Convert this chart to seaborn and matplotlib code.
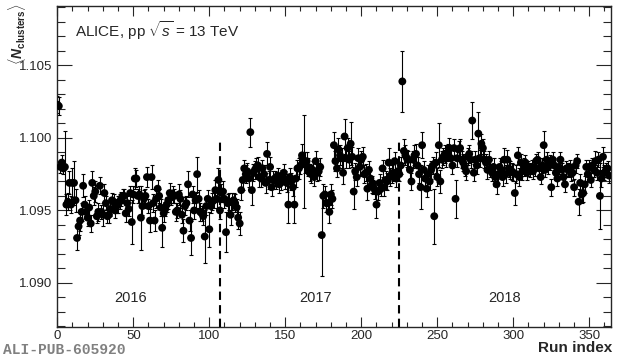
import numpy as np
import pandas as pd
import matplotlib
matplotlib.use("Agg")
import matplotlib.pyplot as plt
from matplotlib.ticker import MultipleLocator, FormatStrFormatter
import seaborn as sns

# <N_clusters> per run (run index = position in the list)
mean_clusters = [
    1.1023, 1.1022, 1.0980, 1.0983, 1.0979, 1.0980, 1.0954, 1.0956, 1.0969, 1.0954,
    1.0969, 1.0969, 1.0957, 1.0931, 1.0939, 1.0943, 1.0949, 1.0967, 1.0954, 1.0949,
    1.0945, 1.0952, 1.0941, 1.0969, 1.0960, 1.0963, 1.0946, 1.0949, 1.0967, 1.0949,
    1.0947, 1.0962, 1.0955, 1.0946, 1.0947, 1.0951, 1.0957, 1.0956, 1.0950, 1.0953,
    1.0954, 1.0956, 1.0958, 1.0960, 1.0960, 1.0948, 1.0955, 1.0951, 1.0962, 1.0942,
    1.0961, 1.0972, 1.0972, 1.0960, 1.0961, 1.0945, 1.0953, 1.0958, 1.0960, 1.0973,
    1.0953, 1.0943,
    1.0973, 1.0955, 1.0943, 1.0958, 1.0965, 1.0960, 1.0952, 1.0938, 1.0948, 1.0951,
    1.0954, 1.0957, 1.0962, 1.0959, 1.0961, 1.0960, 1.0949, 1.0950, 1.0961, 1.0958,
    1.0947, 1.0936, 1.0953, 1.0955, 1.0968, 1.0943, 1.0931, 1.0961, 1.0950, 1.0957,
    1.0975, 1.0958, 1.0949, 1.0948, 1.0946, 1.0932, 1.0953, 1.0958, 1.0937, 1.0953,
    1.0956, 1.0957, 1.0964, 1.0958, 1.0971, 1.0950, 1.0962, 1.0963, 1.0958, 1.0935,
    1.0955, 1.0956, 1.0947, 1.0956, 1.0957, 1.0955, 1.0952, 1.0945, 1.0941, 1.0964,
    1.0971, 1.0979, 1.0975, 1.0977, 1.0972,
    1.1004,
    1.0964, 1.0976, 1.0978, 1.0980, 1.0981, 1.0973, 1.0972, 1.0979, 1.0975, 1.0969,
    1.0989, 1.0971, 1.0980, 1.0966, 1.0971, 1.0972, 1.0970, 1.0974, 1.0968, 1.0969,
    1.0973, 1.0976, 1.0971, 1.0969, 1.0954, 1.0973, 1.0970, 1.0966, 1.0954, 1.0972,
    1.0979, 1.0979, 1.0981, 1.0988, 1.0984, 1.0983, 1.0984, 1.0980, 1.0976, 1.0975,
    1.0978, 1.0973, 1.0984, 1.0976, 1.0977, 1.0980, 1.0933, 1.0960, 1.0961, 1.0955,
    1.0955, 1.0949, 1.0961, 1.0958, 1.0995, 1.0984, 1.0979, 1.0992, 1.0988, 1.0986,
    1.0976, 1.1001,
    1.0986, 1.0993, 1.0985, 1.0996, 1.0987, 1.0963, 1.0977, 1.0973, 1.0986, 1.0980,
    1.0985, 1.0987, 1.0975, 1.0976, 1.0965, 1.0978, 1.0972, 1.0968, 1.0966, 1.0964,
    1.0954, 1.0963, 1.0969, 1.0965, 1.0979, 1.0966, 1.0971, 1.0970, 1.0983, 1.0973,
    1.0975, 1.0976, 1.0984, 1.0972, 1.0977, 1.0975, 1.0981, 1.1039,
    1.0991, 1.0988, 1.0986, 1.0985, 1.0978, 1.0970, 1.0985, 1.0988, 1.0989, 1.0981,
    1.0975, 1.0966, 1.0995, 1.0978, 1.0972, 1.0965, 1.0975, 1.0970, 1.0978, 1.0981,
    1.0946, 1.0983, 1.0973, 1.0995, 1.0970, 1.0985, 1.0987, 1.0989, 1.0986, 1.0990,
    1.0993, 1.0986, 1.0981, 1.0993, 1.0958, 1.0986, 1.0992, 1.0993, 1.0985, 1.0983,
    1.0980, 1.0977, 1.0987, 1.0989, 1.0985, 1.1012, 1.0976, 1.0985, 1.0981, 1.1003,
    1.0986, 1.0996, 1.0993, 1.0985, 1.0983, 1.0978, 1.0985, 1.0979, 1.0976, 1.0980,
    1.0973, 1.0968, 1.0975, 1.0980, 1.0978, 1.0973, 1.0985, 1.0975, 1.0985, 1.0979,
    1.0978, 1.0977, 1.0976, 1.0962, 1.0975, 1.0988, 1.0973, 1.0983, 1.0977, 1.0980,
    1.0983, 1.0976, 1.0979, 1.0978, 1.0980, 1.0977, 1.0979, 1.0984, 1.0985, 1.0979,
    1.0973, 1.0981, 1.0995, 1.0978, 1.0985, 1.0980, 1.0983, 1.0966, 1.0985, 1.0981,
    1.0976, 1.0972, 1.0980, 1.0985, 1.0978, 1.0973, 1.0968, 1.0979, 1.0978, 1.0980,
    1.0975, 1.0976, 1.0966, 1.0981, 1.0984, 1.0956, 1.0969, 1.0961, 1.0962, 1.0968,
    1.0980, 1.0975, 1.0980, 1.0971, 1.0981, 1.0978, 1.0984, 1.0976, 1.0985, 1.0960,
    1.0972, 1.0987, 1.0976, 1.0978, 1.0979, 1.0974,
]

# statistical errors, in units of 1e-4
stat_err_1e4 = [
    6, 6, 4, 5, 4, 25, 7, 6, 8, 6,
    10, 15, 8, 8, 6, 7, 6, 8, 6, 5,
    6, 5, 6, 8, 6, 7, 5, 6, 6, 5,
    8, 6, 5, 5, 6, 5, 5, 5, 5, 5,
    6, 5, 5, 5, 5, 6, 5, 5, 5, 15,
    6, 7, 6, 5, 6, 22, 6, 6, 5, 7,
    5, 8,
    8, 6, 7, 6, 6, 5, 6, 13, 6, 5,
    5, 6, 7, 5, 6, 5, 6, 5, 7, 6,
    6, 8, 6, 5, 9, 7, 12, 6, 6, 5,
    12, 6, 6, 5, 6, 18, 6, 6, 12, 5,
    6, 5, 7, 6, 8, 6, 6, 7, 6, 14,
    6, 6, 7, 6, 5, 6, 6, 8, 8, 7,
    7, 6, 6, 6, 6,
    10,
    10, 6, 6, 6, 6, 7, 6, 6, 6, 7,
    8, 6, 7, 6, 6, 5, 5, 5, 6, 5,
    5, 6, 6, 6, 13, 6, 6, 6, 13, 6,
    6, 7, 6, 8, 32, 7, 6, 6, 6, 6,
    6, 6, 7, 6, 6, 6, 28, 8, 6, 6,
    7, 8, 7, 6, 9, 7, 6, 8, 7, 7,
    8, 12,
    7, 7, 6, 15, 7, 12, 6, 6, 7, 6,
    6, 7, 6, 6, 8, 6, 6, 6, 5, 6,
    9, 6, 6, 5, 6, 6, 6, 6, 10, 6,
    6, 6, 6, 6, 6, 5, 6, 21,
    8, 7, 6, 6, 6, 6, 6, 7, 7, 6,
    6, 15, 9, 6, 6, 6, 6, 6, 6, 6,
    19, 7, 6, 15, 8, 6, 6, 6, 6, 6,
    7, 6, 6, 6, 13, 6, 6, 6, 6, 6,
    6, 6, 6, 6, 6, 13, 6, 6, 6, 15,
    6, 7, 6, 6, 6, 6, 6, 6, 6, 6,
    6, 7, 6, 6, 6, 6, 8, 6, 7, 6,
    6, 6, 6, 8, 6, 6, 6, 6, 6, 6,
    5, 5, 5, 5, 5, 5, 5, 5, 5, 5,
    5, 5, 10, 5, 5, 5, 5, 6, 5, 5,
    5, 5, 5, 5, 5, 5, 5, 5, 5, 5,
    5, 5, 6, 5, 5, 9, 6, 6, 6, 6,
    5, 5, 5, 5, 5, 5, 7, 5, 5, 23,
    6, 7, 5, 5, 5, 5,
]

period_labels = ["2016", "2017", "2018"]
period_label_runs = [48.5, 170, 294.5]
period_boundaries = [107.2, 224.8]

df = pd.DataFrame({
    "run": np.arange(len(mean_clusters)),
    "n": mean_clusters,
    "err": np.array(stat_err_1e4) * 1e-4,
})

sns.set_style("ticks")
plt.rcParams["font.family"] = ["Liberation Sans", "DejaVu Sans"]
plt.rcParams["mathtext.fontset"] = "custom"
plt.rcParams["mathtext.rm"] = "Liberation Sans"
plt.rcParams["mathtext.it"] = "Liberation Sans:italic"
plt.rcParams["mathtext.bf"] = "Liberation Sans:bold"
plt.rcParams["mathtext.bfit"] = "Liberation Sans:italic:bold"

ymin, ymax = 1.08696, 1.1091

fig = plt.figure(figsize=(6.2, 3.56), dpi=100)
ax = fig.add_axes([0.0924, 0.0815, 0.8924, 0.9016])

ax.errorbar(df["run"], df["n"], yerr=df["err"], fmt="none", ecolor="black",
            elinewidth=0.8, capsize=1.2, capthick=0.8, zorder=2)
sns.scatterplot(data=df, x="run", y="n", color="black", s=32, edgecolor="none",
                zorder=3, ax=ax, legend=False)

ax.vlines(period_boundaries, ymin, 1.100, colors="black", linewidth=1.5,
          linestyles=(0, (4, 2.5)), zorder=1)

for lab, xr in zip(period_labels, period_label_runs):
    ax.text(xr, 1.08896, lab, ha="center", va="center", fontsize=10.5)

ax.text(0.032, 0.925, r"ALICE, pp $\sqrt{s}$ = 13 TeV", transform=ax.transAxes,
        ha="left", va="center", fontsize=11)

ax.set_xlim(0, 364)
ax.set_ylim(ymin, ymax)
ax.set_xlabel("")
ax.set_ylabel("")
ax.xaxis.set_major_locator(MultipleLocator(50))
ax.xaxis.set_minor_locator(MultipleLocator(10))
ax.yaxis.set_major_locator(MultipleLocator(0.005))
ax.yaxis.set_minor_locator(MultipleLocator(0.001))
ax.yaxis.set_major_formatter(FormatStrFormatter("%.3f"))
ax.tick_params(which="both", direction="in", top=True, right=True, labelsize=9.5, width=0.8)
ax.tick_params(axis="y", which="major", length=11)
ax.tick_params(axis="y", which="minor", length=5.5)
ax.tick_params(axis="x", which="major", length=7)
ax.tick_params(axis="x", which="minor", length=3.5)
ax.tick_params(axis="x", pad=2)
for sp in ax.spines.values():
    sp.set_linewidth(1.0)

fig.text(0.027, 0.99, r"$\langle\mathbfit{N}_{\mathbf{clusters}}\rangle$", rotation=90,
         ha="center", va="top", fontsize=10)
fig.text(0.987, 0.004, "Run index", ha="right", va="bottom", fontsize=11, fontweight="bold")
fig.text(0.005, 0.018, "ALI-PUB-605920", ha="left", va="center", fontsize=10.5,
         family="Liberation Mono", fontweight="bold", color="#808080")

fig.savefig("out.png", dpi=100)
